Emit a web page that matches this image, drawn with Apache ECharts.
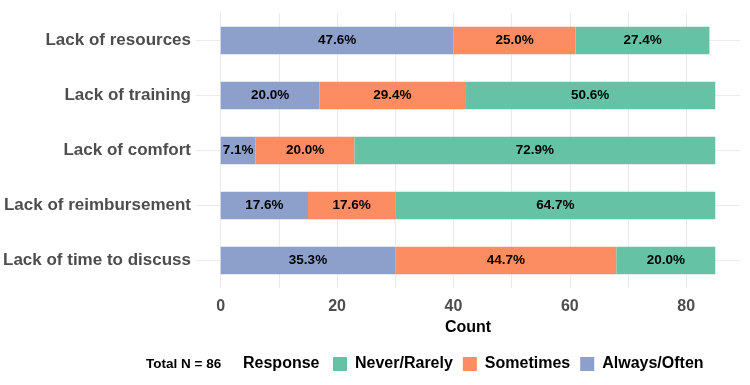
<!DOCTYPE html>
<html>
<head>
<meta charset="utf-8">
<script src="https://cdn.jsdelivr.net/npm/echarts@6/dist/echarts.min.js"></script>
<style>
  html,body{margin:0;padding:0;background:#fff;}
  #chart{width:750px;height:385px;}
</style>
</head>
<body>
<div id="chart"></div>
<script>
// barriers, top to bottom
const categories=[
  "Lack of resources",
  "Lack of training",
  "Lack of comfort",
  "Lack of reimbursement",
  "Lack of time to discuss"
];

// counts per response
const alwaysOften=[40,17,6,15,30];
const sometimes=[21,25,17,15,38];
const neverRarely=[23,43,62,55,17];

const xTicks=[0,20,40,60,80];

const totals=categories.map((c,i)=>alwaysOften[i]+sometimes[i]+neverRarely[i]);

const font="'Liberation Sans', Arial, sans-serif";

const chart=echarts.init(document.getElementById("chart"));

function series(name,data,color){
  return {
    name:name,
    type:"bar",
    stack:"all",
    barWidth:"50%",
    data:data,
    itemStyle:{color:color},
    label:{
      show:true,
      position:"inside",
      color:"#000",
      fontWeight:"bold",
      fontSize:13.5,
      fontFamily:font,
      formatter:p=>(p.value/totals[p.dataIndex]*100).toFixed(1)+"%"
    }
  };
}

chart.setOption({
  animation:false,
  textStyle:{fontFamily:font},
  grid:{left:195,right:10,top:13,height:275},
  xAxis:{
    type:"value",
    min:-4.25,
    max:89.25,
    splitNumber:9,
    name:"Count",
    nameLocation:"middle",
    nameGap:31,
    nameTextStyle:{color:"#000",fontWeight:"bold",fontSize:16,fontFamily:font},
    axisLine:{show:false},
    axisTick:{show:false},
    axisLabel:{
      color:"#4D4D4D",
      fontWeight:"bold",
      fontSize:16,
      margin:11,
      showMinLabel:false,
      showMaxLabel:false,
      formatter:v=>xTicks.includes(v)?String(v):""
    },
    splitLine:{
      show:true,
      showMinLine:false,
      showMaxLine:false,
      lineStyle:{color:"#EBEBEB",width:1}
    }
  },
  yAxis:{
    type:"category",
    inverse:true,
    data:categories,
    axisLine:{show:false},
    axisTick:{show:false},
    axisLabel:{
      color:"#4D4D4D",
      fontWeight:"bold",
      fontSize:17,
      margin:5
    },
    splitLine:{
      show:true,
      alignWithLabel:true,
      lineStyle:{color:"#EBEBEB",width:1}
    }
  },
  legend:{
    left:328,
    top:351,
    itemWidth:14,
    itemHeight:14,
    itemGap:10,
    icon:"rect",
    data:["Never/Rarely","Sometimes","Always/Often"],
    textStyle:{color:"#000",fontWeight:"bold",fontSize:16,fontFamily:font,padding:[0,0,0,3]}
  },
  graphic:[
    {
      type:"text",
      left:146,
      top:357,
      style:{text:"Total N = 86",fill:"#000",font:"bold 13.5px "+font}
    },
    {
      type:"text",
      left:243,
      top:356,
      style:{text:"Response",fill:"#000",font:"bold 16px "+font}
    }
  ],
  series:[
    series("Always/Often",alwaysOften,"#8DA0CB"),
    series("Sometimes",sometimes,"#FC8D62"),
    series("Never/Rarely",neverRarely,"#66C2A5")
  ]
});
</script>
</body>
</html>
